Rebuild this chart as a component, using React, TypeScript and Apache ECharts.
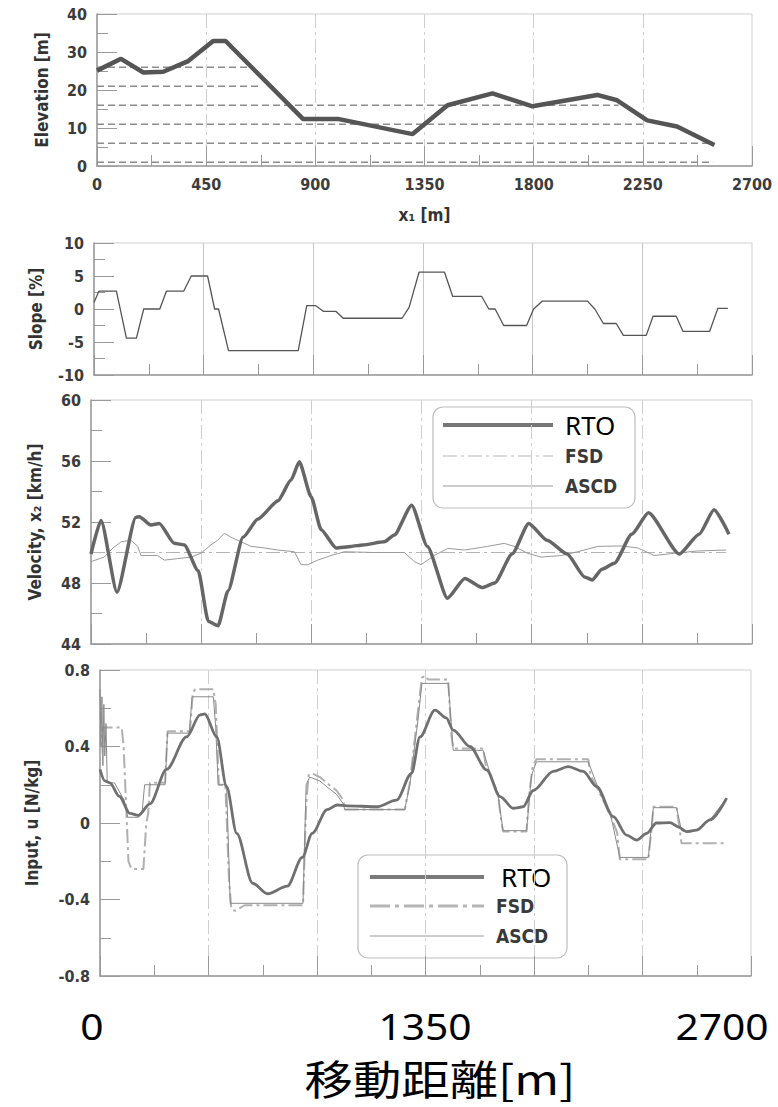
import React, { useEffect, useRef } from "react";
import * as echarts from "echarts";

// ---------- data (distance [m], value) ----------
const xTicks = [0, 450, 900, 1350, 1800, 2250, 2700];

const elevation = [
  [0, 25.1], [99, 28.2], [191, 24.6], [273, 24.8], [376, 27.6], [479, 32.9], [530, 32.9],
  [849, 12.4], [993, 12.4], [1301, 8.4], [1445, 16.0], [1630, 19.1], [1795, 15.7],
  [2062, 18.7], [2144, 17.3], [2268, 12.0], [2391, 10.4], [2545, 5.5],
];
const refLevels = [26, 21, 16, 11, 6, 1];
const refEnds = [625, 680, 2150, 2250, 2540, 2540];

const slope = [
  [0, 1.0], [20, 2.7], [92, 2.7], [133, -4.4], [174, -4.4], [204, 0], [270, 0], [297, 2.7],
  [368, 2.7], [399, 5.0], [466, 5.0], [495, 0], [511, 0], [552, -6.3], [838, -6.3],
  [873, 0.5], [910, 0.5], [941, -0.35], [992, -0.35], [1023, -1.4], [1264, -1.4],
  [1293, 0.25], [1334, 5.6], [1438, 5.6], [1472, 1.9], [1591, 1.9], [1620, 0], [1646, 0],
  [1681, -2.5], [1775, -2.5], [1804, 0], [1840, 1.2], [2025, 1.2], [2055, 0], [2090, -2.2],
  [2143, -2.2], [2172, -4.0], [2266, -4.0], [2294, -1.1], [2389, -1.1], [2417, -3.4],
  [2526, -3.4], [2560, 0.1], [2601, 0.1],
];

const velRTO = [
  [0, 49.9], [41, 52.1], [106, 47.4], [183, 52.3], [197, 52.35], [245, 51.8], [279, 51.9],
  [340, 50.6], [381, 50.5], [438, 48.8], [479, 45.5], [519, 45.2], [560, 47.5], [621, 51.0],
  [682, 52.2], [764, 53.4], [817, 54.75], [851, 55.95], [899, 53.66], [940, 51.5],
  [1001, 50.3], [1062, 50.4], [1110, 50.5], [1198, 50.7], [1239, 51.15], [1310, 53.1],
  [1374, 50.4], [1456, 47.0], [1527, 48.3], [1598, 47.7], [1649, 48.0], [1720, 49.9],
  [1788, 51.9], [1863, 50.8], [1945, 49.9], [2016, 48.4], [2047, 48.2], [2087, 48.9],
  [2138, 49.3], [2209, 51.2], [2277, 52.6], [2403, 49.9], [2484, 51.2], [2545, 52.8],
  [2606, 51.2],
];
const velFSD = [[0, 50.0], [2594, 50.0]];
const velASCD = [
  [0, 49.4], [54, 49.7], [90, 50.3], [123, 50.7], [163, 50.8], [191, 50.4], [204, 49.8],
  [272, 49.8], [300, 49.5], [354, 49.6], [409, 49.7], [449, 49.95], [490, 50.5], [517, 50.8],
  [545, 51.26], [572, 51.0], [613, 50.7], [654, 50.4], [708, 50.3], [763, 50.16],
  [831, 50.05], [858, 49.2], [885, 49.2], [926, 49.5], [980, 49.8], [1035, 50.05],
  [1157, 50.0], [1280, 50.0], [1321, 49.4], [1348, 49.2], [1375, 49.5], [1402, 49.8],
  [1457, 50.27], [1525, 50.16], [1620, 50.4], [1688, 50.6], [1729, 50.4], [1784, 49.95],
  [1838, 49.7], [1920, 49.8], [1988, 50.05], [2070, 50.4], [2165, 50.43], [2233, 50.3],
  [2301, 49.8], [2383, 49.95], [2478, 50.1], [2594, 50.16],
];

const inRTO = [
  [0, 0.28], [20, 0.22], [41, 0.21], [80, 0.14], [124, 0.05], [159, 0.04], [207, 0.10],
  [276, 0.28], [359, 0.45], [415, 0.565], [435, 0.57], [484, 0.45], [525, 0.19],
  [567, -0.054], [633, -0.315], [695, -0.37], [777, -0.33], [839, -0.18], [880, -0.054],
  [942, 0.07], [983, 0.094], [1024, 0.09], [1148, 0.085], [1230, 0.12], [1292, 0.26],
  [1327, 0.45], [1389, 0.59], [1436, 0.55], [1465, 0.486], [1534, 0.40], [1604, 0.277],
  [1659, 0.138], [1714, 0.077], [1755, 0.085], [1797, 0.17], [1880, 0.27], [1942, 0.295],
  [2004, 0.27], [2060, 0.19], [2129, 0.033], [2184, -0.063], [2226, -0.089], [2267, -0.054],
  [2308, 0], [2364, 0.002], [2398, -0.02], [2433, -0.045], [2474, -0.037], [2530, 0.016],
  [2599, 0.13],
];
const inFSD = [
  [0, 0.35], [10, 0.5], [90, 0.5], [98, 0.4], [118, -0.2], [130, -0.24], [180, -0.24],
  [192, 0.0], [200, 0.05], [207, 0.21], [270, 0.21], [280, 0.48], [373, 0.48], [385, 0.68],
  [395, 0.7], [470, 0.7], [480, 0.62], [493, 0.2], [520, 0.2], [535, -0.3], [545, -0.45],
  [560, -0.46], [600, -0.43], [842, -0.43], [855, 0.1], [865, 0.25], [880, 0.26],
  [912, 0.24], [940, 0.21], [981, 0.17], [1009, 0.12], [1015, 0.07], [1264, 0.07],
  [1285, 0.21], [1320, 0.6], [1335, 0.76], [1350, 0.77], [1360, 0.75], [1444, 0.75],
  [1458, 0.45], [1465, 0.39], [1589, 0.39], [1600, 0.3], [1650, 0.16], [1665, 0.0],
  [1672, -0.045], [1769, -0.045], [1780, 0.15], [1795, 0.3], [1810, 0.333], [2025, 0.333],
  [2035, 0.25], [2073, 0.155], [2120, 0.03], [2145, -0.05], [2156, -0.19], [2274, -0.19],
  [2290, 0.0], [2295, 0.085], [2391, 0.085], [2400, 0.0], [2412, -0.106], [2592, -0.106],
];
const inASCD = [
  [0, 0.7], [4, 0.4], [8, 0.66], [12, 0.3], [16, 0.62], [20, 0.35], [25, 0.52], [30, 0.21],
  [60, 0.21], [100, 0.12], [115, 0.03], [160, 0.03], [175, 0.06], [185, 0.2], [270, 0.2],
  [280, 0.47], [370, 0.47], [382, 0.66], [470, 0.66], [480, 0.5], [490, 0.2], [525, 0.2],
  [540, -0.42], [842, -0.42], [855, 0.2], [870, 0.24], [912, 0.22], [940, 0.19],
  [981, 0.15], [1009, 0.1], [1015, 0.07], [1264, 0.07], [1285, 0.2], [1320, 0.55],
  [1335, 0.73], [1444, 0.73], [1458, 0.5], [1465, 0.38], [1589, 0.38], [1620, 0.25],
  [1650, 0.15], [1672, -0.04], [1769, -0.04], [1790, 0.25], [1810, 0.32], [2025, 0.32],
  [2073, 0.16], [2120, 0.03], [2156, -0.18], [2274, -0.18], [2295, 0.08], [2391, 0.08],
  [2412, -0.04], [2440, -0.05], [2474, -0.037], [2530, 0.016], [2599, 0.13],
];

const bottomTicks = ["0", "1350", "2700"];
const legendNames = ["RTO", "FSD", "ASCD"];

// ---------- styling ----------
const COND = "DejaVu Sans Condensed, Liberation Sans Narrow, DejaVu Sans, sans-serif";
const CJK = "Noto Sans CJK JP, Noto Sans, sans-serif";
const SANS = "Noto Sans, Open Sans, sans-serif";
const AX = "#9a9a9a";
const DASHDOT = [14, 4, 3, 4];

const grids = [
  { left: 97, top: 14, width: 655, height: 152 },
  { left: 94, top: 243, width: 658, height: 132 },
  { left: 91, top: 400, width: 661, height: 244 },
  { left: 100, top: 670, width: 651, height: 306 },
];

const tickLabelStyle = { fontFamily: COND, fontSize: 16, color: "#3c3c3c", fontWeight: "bold" };

function xAxisFor(i: number) {
  return {
    type: "value",
    gridIndex: i,
    min: xTicks[0],
    max: xTicks[xTicks.length - 1],
    interval: xTicks[1] - xTicks[0],
    name: i === 0 ? "x\u2081 [m]" : "",
    nameLocation: "middle",
    nameGap: 40,
    nameTextStyle: { fontFamily: COND, fontSize: 17, color: "#333", fontWeight: "bold" },
    axisLine: { show: true, onZero: false, lineStyle: { color: AX, width: 1.5 } },
    axisTick: { show: true, inside: true, length: 20, lineStyle: { color: AX } },
    minorTick: { show: true, splitNumber: 2, length: 11, lineStyle: { color: AX } },
    axisLabel: {
      show: i === 0,
      ...tickLabelStyle,
      margin: 10,
      formatter: (v: number) => String(v),
    },
    splitLine: {
      show: true,
      showMinLine: false,
      showMaxLine: false,
      lineStyle: { color: i === 1 ? "#c8c8c8" : "#cfcfcf", type: i === 1 ? "solid" : DASHDOT, width: 1 },
    },
  };
}

function yAxisFor(i: number, min: number, max: number, interval: number, name: string, gap: number) {
  return {
    type: "value",
    gridIndex: i,
    min,
    max,
    interval,
    name,
    nameLocation: "middle",
    nameRotate: 90,
    nameGap: gap,
    nameTextStyle: { fontFamily: COND, fontSize: 17, color: "#333", fontWeight: "bold" },
    axisLine: { show: true, onZero: false, lineStyle: { color: AX, width: 1.5 } },
    axisTick: { show: true, inside: true, length: 20, lineStyle: { color: AX } },
    minorTick: { show: true, splitNumber: 2, length: 11, lineStyle: { color: AX } },
    axisLabel: { ...tickLabelStyle, margin: 10 },
    splitLine: { show: false },
  };
}

function lineSeries(data: number[][], idx: number, color: string, width: number, type: any, smooth: number | boolean, z = 3) {
  return {
    type: "line",
    xAxisIndex: idx,
    yAxisIndex: idx,
    data,
    symbol: "none",
    smooth,
    smoothMonotone: "x",
    silent: true,
    z,
    lineStyle: { color, width, type },
  };
}

function legendGraphic(box: { x: number; y: number; w: number; h: number }, lineX1: number, lineX2: number, textX: number[], ys: number[], styles: any[]) {
  const children: any[] = [
    {
      type: "rect",
      shape: { x: box.x, y: box.y, width: box.w, height: box.h, r: 10 },
      style: { fill: "#fff", stroke: "#bdbdbd", lineWidth: 1.2 },
    },
  ];
  legendNames.forEach((n, k) => {
    children.push({
      type: "line",
      shape: { x1: lineX1, y1: ys[k], x2: lineX2, y2: ys[k] },
      style: styles[k],
    });
    children.push({
      type: "text",
      x: textX[k],
      y: ys[k],
      style:
        k === 0
          ? { text: n, fill: "#000", fontFamily: SANS, fontSize: 26, verticalAlign: "middle", align: "left" }
          : { text: n, fill: "#3a3a3a", fontFamily: COND, fontSize: 19, fontWeight: "bold", verticalAlign: "middle", align: "left" },
    });
  });
  return { type: "group", z: 100, children };
}

function buildOption() {
  const refSeries = refLevels.map((lvl, k) => ({
    type: "line",
    xAxisIndex: 0,
    yAxisIndex: 0,
    data: [[0, lvl], [refEnds[k], lvl]],
    symbol: "none",
    silent: true,
    z: 2,
    lineStyle: { color: "#8c8c8c", width: 1.6, type: [7, 4] },
  }));

  const tickX = [92, 425, 722];

  return {
    animation: false,
    backgroundColor: "#fff",
    grid: grids.map((g) => ({ ...g, show: true, borderColor: "#cfcfcf", borderWidth: 1, backgroundColor: "transparent" })),
    xAxis: [0, 1, 2, 3].map((i) => xAxisFor(i)),
    yAxis: [
      yAxisFor(0, 0, 40, 10, "Elevation [m]", 47),
      yAxisFor(1, -10, 10, 5, "Slope [%]", 50),
      yAxisFor(2, 44, 60, 4, "Velocity, x\u2082 [km/h]", 48),
      yAxisFor(3, -0.8, 0.8, 0.4, "Input, u [N/kg]", 60),
    ],
    series: [
      ...refSeries,
      lineSeries(elevation, 0, "#555", 4.5, "solid", false, 5),
      lineSeries(slope, 1, "#555", 1.3, "solid", false),
      lineSeries(velFSD, 2, "#b5b5b5", 1.2, DASHDOT, false, 2),
      lineSeries(velASCD, 2, "#9a9a9a", 1, "solid", false, 2),
      lineSeries(velRTO, 2, "#666", 3.5, "solid", 0.2, 4),
      lineSeries(inFSD, 3, "#b0b0b0", 2, DASHDOT, false, 2),
      lineSeries(inASCD, 3, "#8a8a8a", 1, "solid", false, 3),
      lineSeries(inRTO, 3, "#707070", 2.8, "solid", 0.3, 4),
    ],
    graphic: [
      legendGraphic(
        { x: 433, y: 407, w: 202, h: 101 },
        443,
        553,
        [565, 565, 565],
        [425, 456, 486],
        [
          { stroke: "#777", lineWidth: 4 },
          { stroke: "#b5b5b5", lineWidth: 1.2, lineDash: DASHDOT },
          { stroke: "#9a9a9a", lineWidth: 1 },
        ]
      ),
      legendGraphic(
        { x: 358, y: 855, w: 209, h: 103 },
        370,
        484,
        [501, 496, 496],
        [877, 906, 936],
        [
          { stroke: "#7a7a7a", lineWidth: 4 },
          { stroke: "#b5b5b5", lineWidth: 3, lineDash: [20, 5, 4, 5] },
          { stroke: "#9a9a9a", lineWidth: 1 },
        ]
      ),
      {
        type: "group",
        z: 100,
        children: [
          ...bottomTicks.map((t, k) => ({
            type: "text",
            x: tickX[k],
            y: 1025,
            scaleX: 1.1,
            style: { text: t, fontFamily: SANS, fontSize: 37, fill: "#000", align: "center", verticalAlign: "middle" },
          })),
          {
            type: "text",
            x: 440,
            y: 1077,
            scaleX: 1.18,
            style: { text: "移動距離[m]", fontFamily: CJK, fontSize: 41, fill: "#000", align: "center", verticalAlign: "middle" },
          },
        ],
      },
    ],
  };
}

export default function App() {
  const ref = useRef<HTMLDivElement>(null);
  useEffect(() => {
    document.body.style.margin = "0";
    const chart = echarts.init(ref.current as HTMLDivElement, null, { renderer: "svg" });
    chart.setOption(buildOption() as any);
    return () => chart.dispose();
  }, []);
  return <div ref={ref} style={{ width: 778, height: 1107 }} />;
}
